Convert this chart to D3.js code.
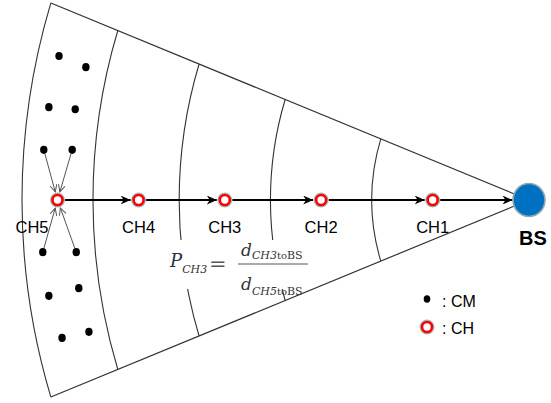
<!DOCTYPE html>
<html>
<head>
<meta charset="utf-8">
<script src="https://cdn.jsdelivr.net/npm/d3@7"></script>
<style>
  html, body { margin: 0; padding: 0; background: #fff; }
  svg { display: block; }
</style>
</head>
<body>
<div id="chart"></div>
<script>
// distances are in "units" from the BS (0) to the outer edge of the sector (100)
const ringDist = [31, 51, 69, 86, 100];
const chNames = ['CH1', 'CH2', 'CH3', 'CH4', 'CH5'];
const chDist = [19, 41, 60, 77, 93];
// cluster members: distance along the axis and sideways offset
const cmAlong = [92.7, 87.4, 94.7, 89.5, 95.7, 90.1, 95.9, 89.3, 94.7, 88.8, 92.1, 86.8];
const cmSide = [-28.4, -26.2, -18.3, -17.9, -9.9, -9.9, 10.3, 10.3, 18.9, 17.4, 27.2, 26.0];
const cmLinked = [4, 5, 6, 7];
const legendLabels = ['CM', 'CH'];

const width = 551, height = 403;
const halfAngle = 22.4 * Math.PI / 180;
const chR = 7.5, bsR = 16;

const x = d3.scaleLinear().domain([0, 100]).range([529, 22]);
const y = d3.scaleLinear().domain([-40, 40]).range([200 - 202.8, 200 + 202.8]);
const px = Math.abs(x(1) - x(0));

const svg = d3.select('#chart').append('svg')
  .attr('width', width)
  .attr('height', height);

const defs = svg.append('defs');
defs.append('marker')
  .attr('id', 'arrowFilled')
  .attr('markerUnits', 'userSpaceOnUse')
  .attr('markerWidth', 11).attr('markerHeight', 9)
  .attr('refX', 10).attr('refY', 4.5)
  .attr('orient', 'auto')
  .append('path')
  .attr('d', 'M0,0 L10,4.5 L0,9 L3,4.5 Z')
  .attr('fill', '#000');
defs.append('marker')
  .attr('id', 'arrowOpen')
  .attr('markerUnits', 'userSpaceOnUse')
  .attr('markerWidth', 9).attr('markerHeight', 9)
  .attr('refX', 7).attr('refY', 3.5)
  .attr('orient', 'auto')
  .append('path')
  .attr('d', 'M0,0 L7,3.5 L0,7')
  .attr('fill', 'none')
  .attr('stroke', '#555')
  .attr('stroke-width', 1);

const bx = x(0), by = y(0);

// a ring edge: ends on the rays slightly further out than where it crosses the axis
function ringPath(d) {
  const L = d * 1.02;
  const top = [x(L * Math.cos(halfAngle)), y(-L * Math.sin(halfAngle))];
  const bot = [x(L * Math.cos(halfAngle)), y(L * Math.sin(halfAngle))];
  const h = L * Math.sin(halfAngle) * px;
  const s = (d - L * Math.cos(halfAngle)) * px;
  const r = (h * h + s * s) / (2 * s);
  return `M${top[0]},${top[1]} A${r},${r} 0 0 0 ${bot[0]},${bot[1]}`;
}

const $sector = svg.append('g');
$sector.selectAll('path.ring')
  .data(ringDist)
  .enter().append('path')
  .attr('class', 'ring')
  .attr('d', d => ringPath(d))
  .attr('fill', 'none')
  .attr('stroke', '#333')
  .attr('stroke-width', 1.1);

const outer = d3.max(ringDist) * 1.02;
$sector.selectAll('line.ray')
  .data([-1, 1])
  .enter().append('line')
  .attr('class', 'ray')
  .attr('x1', bx).attr('y1', by)
  .attr('x2', x(outer * Math.cos(halfAngle)))
  .attr('y2', s => y(s * outer * Math.sin(halfAngle)))
  .attr('stroke', '#333')
  .attr('stroke-width', 1.2);

// cluster members
const cms = cmAlong.map((a, i) => ({along: a, side: cmSide[i]}));
const ch5 = [x(chDist[4]), y(0)];

svg.append('g').selectAll('line')
  .data(cmLinked.map(i => cms[i]))
  .enter().append('line')
  .each(function(d) {
    const sx = x(d.along), sy = y(d.side);
    const dx = ch5[0] - sx, dy = ch5[1] - sy;
    const len = Math.hypot(dx, dy);
    d3.select(this)
      .attr('x1', sx + dx / len * 4).attr('y1', sy + dy / len * 4)
      .attr('x2', ch5[0] - dx / len * (chR + 1)).attr('y2', ch5[1] - dy / len * (chR + 1));
  })
  .attr('stroke', '#555')
  .attr('stroke-width', 1)
  .attr('marker-end', 'url(#arrowOpen)');

svg.append('g').selectAll('ellipse')
  .data(cms)
  .enter().append('ellipse')
  .attr('cx', d => x(d.along))
  .attr('cy', d => y(d.side))
  .attr('rx', 3.7).attr('ry', 4.1)
  .attr('fill', '#000');

// chain of cluster heads towards the BS
const hops = chDist.map((d, i) => ({
  from: d,
  to: i === 0 ? 0 : chDist[i - 1],
  toR: i === 0 ? bsR : chR
}));
svg.append('g').selectAll('line')
  .data(hops)
  .enter().append('line')
  .attr('x1', d => x(d.from) + chR)
  .attr('y1', by)
  .attr('x2', d => x(d.to) - d.toR - 0.5)
  .attr('y2', by)
  .attr('stroke', '#000')
  .attr('stroke-width', 2)
  .attr('marker-end', 'url(#arrowFilled)');

function drawCH(g, cx, cy) {
  g.append('circle').attr('cx', cx).attr('cy', cy).attr('r', chR)
    .attr('fill', '#a3b9bd');
  g.append('circle').attr('cx', cx).attr('cy', cy).attr('r', 5)
    .attr('fill', '#fff')
    .attr('stroke', '#f00')
    .attr('stroke-width', 2.6);
}

const $ch = svg.append('g');
chDist.forEach(d => drawCH($ch, x(d), by));

$ch.selectAll('text')
  .data(chNames)
  .enter().append('text')
  .attr('x', (d, i) => i === 4 ? x(chDist[i]) - 9 : x(chDist[i]))
  .attr('y', 233)
  .attr('text-anchor', (d, i) => i === 4 ? 'end' : 'middle')
  .style('font-family', 'Liberation Sans, Arial, sans-serif')
  .style('font-size', '16.5px')
  .attr('fill', '#000')
  .text(d => d);

// base station
svg.append('ellipse')
  .attr('cx', bx).attr('cy', by)
  .attr('rx', bsR).attr('ry', bsR + 0.5)
  .attr('fill', '#0070c0')
  .attr('stroke', '#8eaab0')
  .attr('stroke-width', 1.6);
svg.append('text')
  .attr('x', bx + 4).attr('y', 245)
  .attr('text-anchor', 'middle')
  .style('font-family', 'Liberation Sans, Arial, sans-serif')
  .style('font-size', '20px')
  .style('font-weight', 'bold')
  .attr('fill', '#000')
  .text('BS');

// formula, on a white box that hides the ring edges behind it
svg.append('rect')
  .attr('x', 166).attr('y', 240)
  .attr('width', 144).attr('height', 49)
  .attr('fill', '#fff');
const $f = svg.append('g')
  .style('font-family', 'DejaVu Serif, Liberation Serif, serif')
  .attr('fill', '#333');
const p = $f.append('text').attr('x', 170).attr('y', 267);
p.append('tspan').style('font-style', 'italic').style('font-size', '18px').attr('fill', '#2a3148').text('P');
p.append('tspan').style('font-style', 'italic').style('font-size', '11px').attr('dy', 6).text('CH3');
$f.append('text').attr('x', 209).attr('y', 271)
  .style('font-size', '21px').attr('fill', '#555').text('=');
$f.append('line')
  .attr('x1', 238).attr('x2', 308).attr('y1', 264).attr('y2', 264)
  .attr('stroke', '#555').attr('stroke-width', 1);

function fracPart(yBase, dy, chName) {
  const t = $f.append('text').attr('x', 241).attr('y', yBase);
  t.append('tspan').style('font-style', 'italic').style('font-size', '17px').text('d');
  t.append('tspan').style('font-style', 'italic').style('font-size', '11px').attr('dy', dy).text(chName);
  t.append('tspan').style('font-size', '10px').text('to');
  t.append('tspan').style('font-size', '11px').text('BS');
}
fracPart(256, 3, 'CH3');
fracPart(290, 5, 'CH5');

// legend
const $legend = svg.append('g')
  .style('font-family', 'Liberation Sans, Arial, sans-serif')
  .style('font-size', '16px');
$legend.append('ellipse').attr('cx', 427).attr('cy', 299).attr('rx', 3.3).attr('ry', 3.8).attr('fill', '#000');
drawCH($legend, 427, 327);
$legend.selectAll('text')
  .data(legendLabels)
  .enter().append('text')
  .attr('x', 442)
  .attr('y', (d, i) => 307 + i * 27)
  .attr('fill', '#000')
  .text(d => ': ' + d);
</script>
</body>
</html>
